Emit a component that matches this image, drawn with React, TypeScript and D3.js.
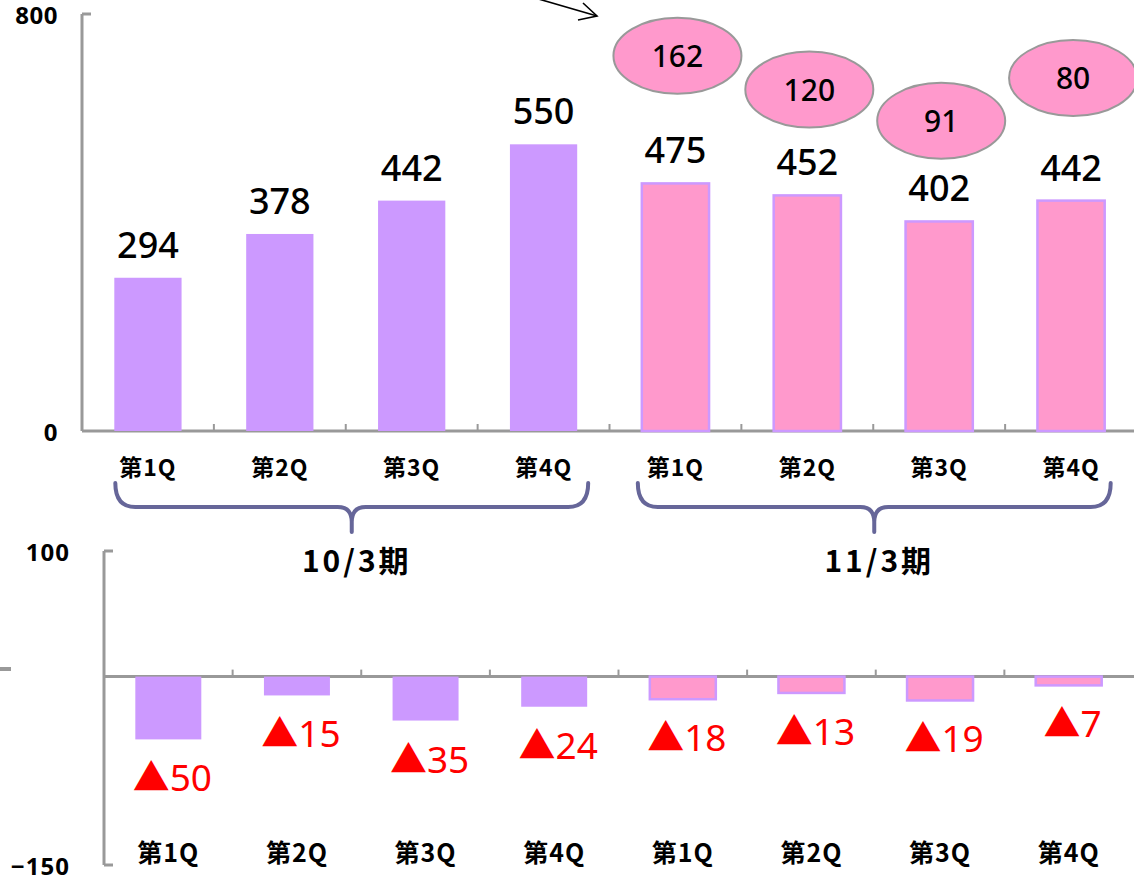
import React from "react";
import * as d3 from "d3";

const quarters = ["第1Q", "第2Q", "第3Q", "第4Q", "第1Q", "第2Q", "第3Q", "第4Q"];
const fiscalGroup = [0, 0, 0, 0, 1, 1, 1, 1];
const periodLabels = ["10/3期", "11/3期"];
const topValues = [294, 378, 442, 550, 475, 452, 402, 442];
const bottomValues = [-50, -15, -35, -24, -18, -13, -19, -7];
const bubbleValues = [null, null, null, null, 162, 120, 91, 80];
const bubbleLevel = [null, null, null, null, 720, 655, 595, 677];
const topTicks = [0, 800];
const bottomTicks = [100, -150];

const PURPLE = "#CC99FF";
const PINK = "#FF99CC";
const AXIS = "#999999";
const BRACE = "#666699";
const NUM_FONT = "'Noto Sans', 'Open Sans', sans-serif";
const JP_FONT = "'Noto Sans CJK JP', sans-serif";

export default function App() {
  const W = 1134, H = 875;
  const idx = quarters.map((_, i) => i);

  const xTop = d3.scaleBand<number>().domain(idx).range([82, 1137]).paddingInner(0.49).paddingOuter(0.245);
  const yTop = d3.scaleLinear().domain([0, 800]).range([431, 14]);
  const xBot = d3.scaleBand<number>().domain(idx).range([104, 1133]).paddingInner(0.487).paddingOuter(0.2435);
  const yBot = d3.scaleLinear().domain([-150, 100]).range([865, 551]);

  const stepTop = xTop.step();
  const stepBot = xBot.step();
  const bwTop = xTop.bandwidth();
  const bwBot = xBot.bandwidth();

  const groups = [0, 1].map((g) => {
    const members = idx.filter((i) => fiscalGroup[i] === g);
    const first = members[0], last = members[members.length - 1];
    const c = ((xTop(first) as number) + (xTop(last) as number) + bwTop) / 2 + (g === 0 ? 6 : 1);
    const half = ((xTop(last) as number) + bwTop - (xTop(first) as number)) / 2 + 5;
    return { g, c, L: c - half, R: c + half };
  });

  const braceTop = 483, braceMid = 507, braceTip = 532;
  const bracePath = (L: number, R: number, C: number) =>
    `M${L},${braceTop} Q${L},${braceMid} ${L + 20},${braceMid} H${C - 14} Q${C},${braceMid} ${C},${braceMid + 15} V${braceTip}` +
    ` M${C},${braceMid + 15} Q${C},${braceMid} ${C + 14},${braceMid} H${R - 20} Q${R},${braceMid} ${R},${braceTop}`;

  const zeroTop = yTop(0);
  const zeroBot = yBot(0);

  return (
    <svg width={W} height={H} style={{ position: "absolute", left: 0, top: 0, background: "#fff" }}>
      {/* arrow */}
      <g stroke="#000" strokeWidth={1.6} fill="none">
        <line x1={480} y1={-18} x2={597} y2={16} />
        <polyline points="583,3 597,16 578,20" />
      </g>

      {/* top axes */}
      <g stroke={AXIS} strokeWidth={3} fill="none">
        <line x1={82} y1={yTop(800)} x2={82} y2={zeroTop} />
        <line x1={82} y1={yTop(800)} x2={91} y2={yTop(800)} />
        <line x1={82} y1={zeroTop} x2={W} y2={zeroTop} />
        {idx.slice(1).map((i) => (
          <line key={i} x1={82 + i * stepTop} x2={82 + i * stepTop} y1={zeroTop} y2={zeroTop - 7} strokeWidth={2} />
        ))}
      </g>
      {topTicks.map((t) => (
        <text key={t} x={58} y={yTop(t) + 10} textAnchor="end" fontFamily={NUM_FONT} fontWeight={700} fontSize={24} letterSpacing={0.5} fill="#000">
          {t}
        </text>
      ))}

      {/* top bars */}
      {topValues.map((v, i) => {
        const pink = fiscalGroup[i] === 1;
        const x = xTop(i) as number;
        return (
          <g key={i}>
            <rect
              x={x}
              y={yTop(v)}
              width={bwTop}
              height={zeroTop - yTop(v)}
              fill={pink ? PINK : PURPLE}
              stroke={pink ? PURPLE : "none"}
              strokeWidth={pink ? 2.5 : 0}
            />
            <text x={x + bwTop / 2} y={yTop(v) - 20} textAnchor="middle" fontFamily={NUM_FONT} fontWeight={500} fontSize={36} fill="#000">
              {v}
            </text>
            <text x={x + bwTop / 2} y={476} textAnchor="middle" fontFamily={JP_FONT} fontWeight={700} fontSize={23} letterSpacing={1} fill="#000">
              {quarters[i]}
            </text>
          </g>
        );
      })}

      {/* bubbles */}
      {bubbleValues.map((b, i) => {
        if (b === null) return null;
        const cx = (xTop(i) as number) + bwTop / 2 + 2;
        const cy = yTop(bubbleLevel[i] as number);
        return (
          <g key={"b" + i}>
            <ellipse cx={cx} cy={cy} rx={64} ry={38} fill={PINK} stroke={AXIS} strokeWidth={2} />
            <text x={cx} y={cy + 11} textAnchor="middle" fontFamily={NUM_FONT} fontWeight={500} fontSize={30} fill="#000">
              {b}
            </text>
          </g>
        );
      })}

      {/* braces and period labels */}
      {groups.map(({ g, c, L, R }) => (
        <g key={"g" + g}>
          <path d={bracePath(L, R, c)} fill="none" stroke={BRACE} strokeWidth={4} strokeLinecap="round" strokeLinejoin="round" />
          <text x={c + 5} y={572} textAnchor="middle" fontFamily={JP_FONT} fontWeight={700} fontSize={30} letterSpacing={3} fill="#000">
            {periodLabels[g]}
          </text>
        </g>
      ))}

      {/* bottom axes */}
      <line x1={0} y1={669} x2={11} y2={669} stroke={AXIS} strokeWidth={4} />
      <g stroke={AXIS} strokeWidth={3} fill="none">
        <line x1={104} y1={yBot(100)} x2={104} y2={yBot(-150)} />
        <line x1={104} y1={yBot(100)} x2={113} y2={yBot(100)} />
        <line x1={104} y1={yBot(-150)} x2={113} y2={yBot(-150)} />
        <line x1={104} y1={zeroBot} x2={W} y2={zeroBot} />
        {idx.slice(1).map((i) => (
          <line key={i} x1={104 + i * stepBot} x2={104 + i * stepBot} y1={zeroBot} y2={zeroBot - 7} strokeWidth={2} />
        ))}
      </g>
      {bottomTicks.map((t) => (
        <text key={t} x={70} y={yBot(t) + 10} textAnchor="end" fontFamily={NUM_FONT} fontWeight={700} fontSize={24} letterSpacing={1} fill="#000">
          {t < 0 ? "\u2212" + Math.abs(t) : t}
        </text>
      ))}

      {/* bottom bars */}
      {bottomValues.map((v, i) => {
        const pink = fiscalGroup[i] === 1;
        const x = xBot(i) as number;
        return (
          <g key={"d" + i}>
            <rect
              x={x}
              y={zeroBot}
              width={bwBot}
              height={yBot(v) - zeroBot}
              fill={pink ? PINK : PURPLE}
              stroke={pink ? PURPLE : "none"}
              strokeWidth={pink ? 2.5 : 0}
            />
            <text x={x + bwBot / 2 + 4} y={yBot(v) + 52} textAnchor="middle" fontFamily={NUM_FONT} fontSize={37} fill="#FF0000">
              <tspan fontFamily={JP_FONT}>▲</tspan>
              {Math.abs(v)}
            </text>
            <text x={x + bwBot / 2} y={862} textAnchor="middle" fontFamily={JP_FONT} fontWeight={700} fontSize={25} letterSpacing={1} fill="#000">
              {quarters[i]}
            </text>
          </g>
        );
      })}
    </svg>
  );
}
